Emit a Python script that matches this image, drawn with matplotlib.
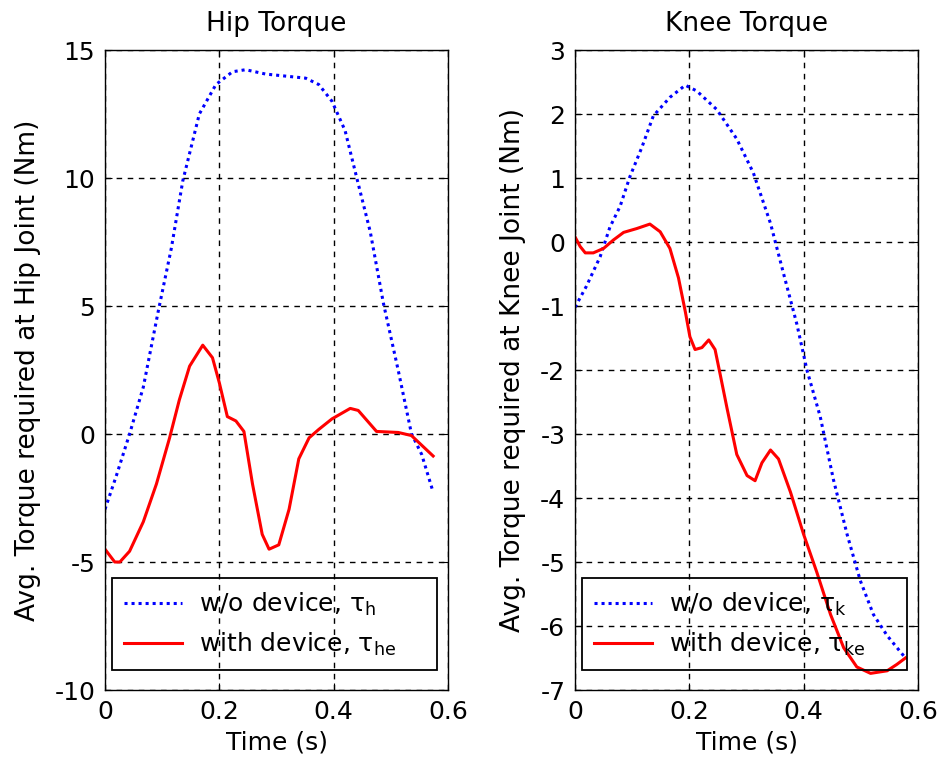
import numpy as np
import matplotlib
matplotlib.use("Agg")
import matplotlib.pyplot as plt

# Hip torque
hip_t_wo = [0.0, 0.02, 0.043, 0.067, 0.093, 0.116, 0.136, 0.165, 0.194, 0.223, 0.246,
            0.281, 0.316, 0.351, 0.374, 0.397, 0.42, 0.44, 0.464, 0.487, 0.513, 0.536,
            0.554, 0.574]
hip_wo = [-2.94, -1.62, 0.0, 1.83, 4.78, 7.25, 9.88, 12.5, 13.65, 14.15, 14.23,
          14.06, 13.98, 13.9, 13.65, 13.0, 11.85, 10.04, 7.9, 5.11, 2.48, 0.02,
          -0.8, -2.27]

hip_t_with = [0.0, 0.017, 0.026, 0.043, 0.067, 0.09, 0.113, 0.13, 0.148, 0.171, 0.188,
              0.2, 0.214, 0.229, 0.243, 0.258, 0.275, 0.287, 0.304, 0.322, 0.339,
              0.357, 0.374, 0.397, 0.429, 0.443, 0.475, 0.513, 0.536, 0.574]
hip_with = [-4.5, -5.0, -5.0, -4.58, -3.43, -1.95, -0.15, 1.33, 2.65, 3.47, 2.98,
            2.0, 0.68, 0.51, 0.1, -1.95, -3.92, -4.5, -4.33, -2.94, -0.97,
            -0.15, 0.18, 0.59, 1.0, 0.92, 0.1, 0.06, -0.06, -0.86]

# Knee torque
knee_t_wo = [0.0, 0.02, 0.044, 0.061, 0.079, 0.096, 0.117, 0.137, 0.166, 0.193, 0.213,
             0.248, 0.283, 0.312, 0.342, 0.365, 0.388, 0.406, 0.429, 0.452, 0.476,
             0.499, 0.522, 0.546, 0.578]
knee_wo = [-1.02, -0.69, -0.23, 0.23, 0.56, 1.02, 1.48, 1.97, 2.26, 2.45, 2.36,
           2.07, 1.61, 1.08, 0.29, -0.5, -1.28, -2.01, -2.73, -3.71, -4.57,
           -5.29, -5.82, -6.15, -6.5]

knee_t_with = [0.0, 0.009, 0.018, 0.032, 0.05, 0.067, 0.085, 0.108, 0.131, 0.149, 0.166,
               0.181, 0.193, 0.201, 0.21, 0.222, 0.234, 0.245, 0.254, 0.266, 0.283,
               0.301, 0.315, 0.327, 0.342, 0.356, 0.377, 0.4, 0.423, 0.447, 0.47,
               0.493, 0.517, 0.546, 0.563, 0.578]
knee_with = [0.08, -0.07, -0.17, -0.17, -0.1, 0.03, 0.15, 0.21, 0.28, 0.16, -0.1,
             -0.56, -1.09, -1.48, -1.68, -1.65, -1.53, -1.68, -2.07, -2.6, -3.32,
             -3.65, -3.73, -3.45, -3.25, -3.39, -3.91, -4.57, -5.16, -5.82, -6.34,
             -6.64, -6.74, -6.7, -6.6, -6.5]

x_ticks = [0, 0.2, 0.4, 0.6]
hip_yticks = [-10, -5, 0, 5, 10, 15]
knee_yticks = [-7, -6, -5, -4, -3, -2, -1, 0, 1, 2, 3]

plt.rcParams['font.family'] = ['DejaVu Sans']
plt.rcParams['mathtext.default'] = 'regular'
plt.rcParams['axes.unicode_minus'] = False

fig = plt.figure(figsize=(9.41, 7.67), dpi=100)
ax1 = fig.add_axes([105 / 941, 77 / 767, 343 / 941, 640 / 767])
ax2 = fig.add_axes([575 / 941, 77 / 767, 343 / 941, 640 / 767])

dots = (0, (1, 1.3))


def style(ax, title, ylabel, yticks):
    ax.set_xlim(0, 0.6)
    ax.set_xticks(x_ticks)
    ax.set_xticklabels(["0", "0.2", "0.4", "0.6"])
    ax.set_yticks(yticks)
    ax.set_ylim(yticks[0], yticks[-1])
    ax.grid(True, color="black", linestyle=(0, (4, 4)), linewidth=1)
    ax.tick_params(direction="in", labelsize=18, length=5, pad=7,
                   top=True, right=True)
    ax.set_title(title, fontsize=19, pad=14)
    ax.set_xlabel("Time (s)", fontsize=18, labelpad=5)
    ax.set_ylabel(ylabel, fontsize=19, labelpad=10)
    for s in ax.spines.values():
        s.set_linewidth(1)


ax1.plot(hip_t_wo, hip_wo, color="blue", linestyle=dots, linewidth=2.2,
         label=r"w/o device, $\tau_h$")
ax1.plot(hip_t_with, hip_with, color="red", linestyle="-", linewidth=2.2,
         label=r"with device, $\tau_{he}$")
style(ax1, "Hip Torque", "Avg. Torque required at Hip Joint (Nm)", hip_yticks)

ax2.plot(knee_t_wo, knee_wo, color="blue", linestyle=dots, linewidth=2.2,
         label=r"w/o device, $\tau_k$")
ax2.plot(knee_t_with, knee_with, color="red", linestyle="-", linewidth=2.2,
         label=r"with device, $\tau_{ke}$")
style(ax2, "Knee Torque", "Avg. Torque required at Knee Joint (Nm)", knee_yticks)

for ax in (ax1, ax2):
    leg = ax.legend(loc="lower left", bbox_to_anchor=(0.02, 0.031, 0.948, 0.153),
                    mode="expand", fontsize=18, fancybox=False, framealpha=1,
                    edgecolor="black", handlelength=2.3,
                    handletextpad=0.7, borderaxespad=0,
                    borderpad=0.5, labelspacing=0.5)
    leg.get_frame().set_linewidth(1.3)
    leg.get_frame().set_facecolor("none")

fig.savefig("out.png", dpi=100)
